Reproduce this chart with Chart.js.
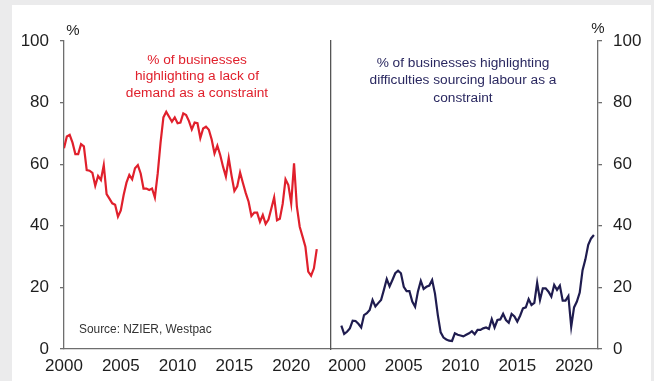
<!DOCTYPE html>
<html lang="en">
<head>
    <meta charset="UTF-8">
    <title>Business constraints: demand vs labour</title>
    <script src="https://cdn.jsdelivr.net/npm/chart.js"></script>
    <style>
        body { margin: 0; background: #ebebec; width: 654px; height: 381px; overflow: hidden; }
        #panel { position: absolute; left: 12px; top: 5px; width: 639px; height: 376px; background: #fff; }
        canvas { position: absolute; left: 0; top: 0; }
    </style>
</head>
<body>
    <div id="panel"></div>
    <canvas id="leftChart" width="654" height="381"></canvas>
    <canvas id="rightChart" width="654" height="381"></canvas>

    <script>
        // quarterly series, first point of each
        const demandStart = 2000;      // 2000 Q1
        const labourStart = 1999.5;    // 1999 Q3

        // % of businesses highlighting a lack of demand as a constraint
        const demandPct = [
            65.2, 69.0, 69.5, 67.0, 63.3, 63.3, 66.5, 65.8, 58.1, 57.9,
            57.2, 53.0, 56.2, 54.9, 59.7, 50.3, 48.8, 47.3, 46.8, 43.0,
            45.0, 50.0, 54.0, 56.5, 55.1, 58.7, 59.7, 57.0, 52.1, 52.1,
            51.6, 52.1, 49.2, 57.0, 67.0, 75.2, 77.0, 75.4, 73.8, 75.2,
            73.3, 73.5, 76.5, 76.0, 74.0, 71.3, 73.5, 73.3, 68.5, 71.6,
            72.2, 71.2, 68.0, 63.5, 66.0, 63.0, 59.2, 56.0, 62.0, 56.3,
            51.3, 52.8, 57.3, 53.9, 50.6, 47.8, 43.2, 44.3, 44.3, 41.3,
            43.5, 40.6, 42.0, 45.6, 49.2, 41.8, 42.3, 47.1, 55.1, 53.2,
            47.3, 60.3, 46.2, 39.7, 36.5, 33.2, 25.1, 23.8, 26.2, 32.4
        ];

        // % of businesses highlighting difficulties sourcing labour
        const labourPct = [
            7.6, 4.9, 5.6, 6.7, 9.2, 9.1, 8.2, 7.0, 11.0, 11.6,
            12.7, 15.9, 13.8, 14.9, 15.9, 19.2, 22.7, 20.3, 22.4, 24.6,
            25.4, 24.6, 20.2, 18.8, 18.8, 15.4, 13.7, 18.7, 22.1, 19.5,
            20.2, 20.6, 22.4, 18.0, 11.0, 5.4, 3.7, 3.1, 2.7, 2.6,
            5.1, 4.6, 4.4, 4.1, 4.6, 5.1, 5.8, 4.8, 6.2, 6.2,
            6.7, 7.0, 6.5, 9.7, 7.0, 9.4, 9.6, 11.4, 9.4, 8.5,
            11.4, 10.6, 8.9, 10.8, 13.2, 13.5, 16.2, 14.3, 15.0, 21.5,
            15.9, 19.7, 19.7, 18.6, 17.0, 20.8, 19.2, 20.6, 15.7, 15.7,
            17.2, 7.2, 13.5, 15.4, 18.3, 25.6, 29.1, 33.8, 35.9, 37.0
        ];

        const yTicks = [0, 20, 40, 60, 80, 100];
        const leftYears = [2000, 2025];
        const rightYears = [1998.59, 2022.11];

        const demandNote = ['% of businesses', 'highlighting a lack of', 'demand as a constraint'];
        const labourNote = ['% of businesses highlighting', 'difficulties sourcing labour as a', 'constraint'];
        const sourceNote = 'Source: NZIER, Westpac';

        const FONT = '"Liberation Sans", Arial, sans-serif';
        const RED = '#e0202c';
        const NAVY = '#1f1c4f';
        const AXIS = '#6e6e6e';
        const TICKTXT = '#1e1e1e';

        function toPoints(start, values) {
            return values.map((v, i) => ({ x: start + i / 4, y: v }));
        }

        // draws free text blocks on the chart
        function notesPlugin(id, items) {
            return {
                id: id,
                afterDraw(chart) {
                    const ctx = chart.ctx;
                    ctx.save();
                    items.forEach(it => {
                        ctx.font = it.font;
                        ctx.fillStyle = it.color;
                        ctx.textAlign = it.align;
                        ctx.textBaseline = 'alphabetic';
                        it.lines.forEach((line, k) => ctx.fillText(line, it.x, it.y + k * it.step));
                    });
                    ctx.restore();
                }
            };
        }

        function xScale(range) {
            return {
                type: 'linear',
                min: range[0],
                max: range[1],
                afterFit: s => { s.height = 32; },
                grid: { display: false, drawTicks: false },
                border: { display: true, color: AXIS, width: 1.3 },
                ticks: {
                    stepSize: 5,
                    includeBounds: false,
                    autoSkip: false,
                    maxRotation: 0,
                    padding: 7,
                    color: TICKTXT,
                    font: { family: FONT, size: 17 },
                    callback: v => String(v)
                }
            };
        }

        function yScale(position) {
            return {
                position: position,
                min: 0,
                max: 100,
                afterFit: s => { s.width = position === 'left' ? 64 : 56; },
                afterBuildTicks: s => { s.ticks = yTicks.map(v => ({ value: v })); },
                grid: { drawOnChartArea: false, drawTicks: true, tickLength: 4, color: AXIS, lineWidth: 1.3 },
                border: { display: true, color: AXIS, width: 1.3 },
                ticks: {
                    padding: 11,
                    color: TICKTXT,
                    font: { family: FONT, size: 17 }
                }
            };
        }

        const common = {
            responsive: false,
            animation: false,
            devicePixelRatio: 1,
            plugins: { legend: { display: false }, tooltip: { enabled: false } },
            elements: { point: { radius: 0 }, line: { tension: 0, borderWidth: 2.2 } }
        };

        // left panel: lack of demand
        new Chart(document.getElementById('leftChart'), {
            type: 'line',
            data: {
                datasets: [{ data: toPoints(demandStart, demandPct), borderColor: RED }]
            },
            options: Object.assign({}, common, {
                layout: { padding: { left: 0, top: 41, right: 306, bottom: 0 } },
                scales: { x: xScale(leftYears), y: yScale('left') }
            }),
            plugins: [notesPlugin('leftNotes', [
                { lines: ['%'], x: 73, y: 35, step: 0, font: '15px ' + FONT, color: TICKTXT, align: 'center' },
                { lines: demandNote, x: 197, y: 64, step: 16.3, font: '13.7px ' + FONT, color: RED, align: 'center' },
                { lines: [sourceNote], x: 79, y: 332.5, step: 0, font: '11.9px ' + FONT, color: '#333', align: 'left' }
            ])]
        });

        // right panel: labour shortage, covers the overhang of the left one
        const whiteBack = {
            id: 'whiteBack',
            beforeDraw(chart) {
                const ctx = chart.ctx;
                ctx.save();
                ctx.fillStyle = '#fff';
                ctx.fillRect(331, 5, 320, 376);
                ctx.restore();
            }
        };

        new Chart(document.getElementById('rightChart'), {
            type: 'line',
            data: {
                datasets: [{ data: toPoints(labourStart, labourPct), borderColor: NAVY, yAxisID: 'y' }]
            },
            options: Object.assign({}, common, {
                layout: { padding: { left: 331, top: 41, right: 0, bottom: 0 } },
                scales: {
                    x: xScale(rightYears),
                    y: yScale('right'),
                    divider: {
                        position: 'left',
                        min: 0,
                        max: 100,
                        afterFit: s => { s.width = 0; },
                        grid: { display: false, drawTicks: false },
                        border: { display: true, color: '#555', width: 1.3 },
                        ticks: { display: false }
                    }
                }
            }),
            plugins: [whiteBack, notesPlugin('rightNotes', [
                { lines: ['%'], x: 598, y: 33, step: 0, font: '15px ' + FONT, color: TICKTXT, align: 'center' },
                { lines: labourNote, x: 463, y: 66.7, step: 17.5, font: '13.7px ' + FONT, color: '#2a2860', align: 'center' }
            ])]
        });
    </script>
</body>
</html>
